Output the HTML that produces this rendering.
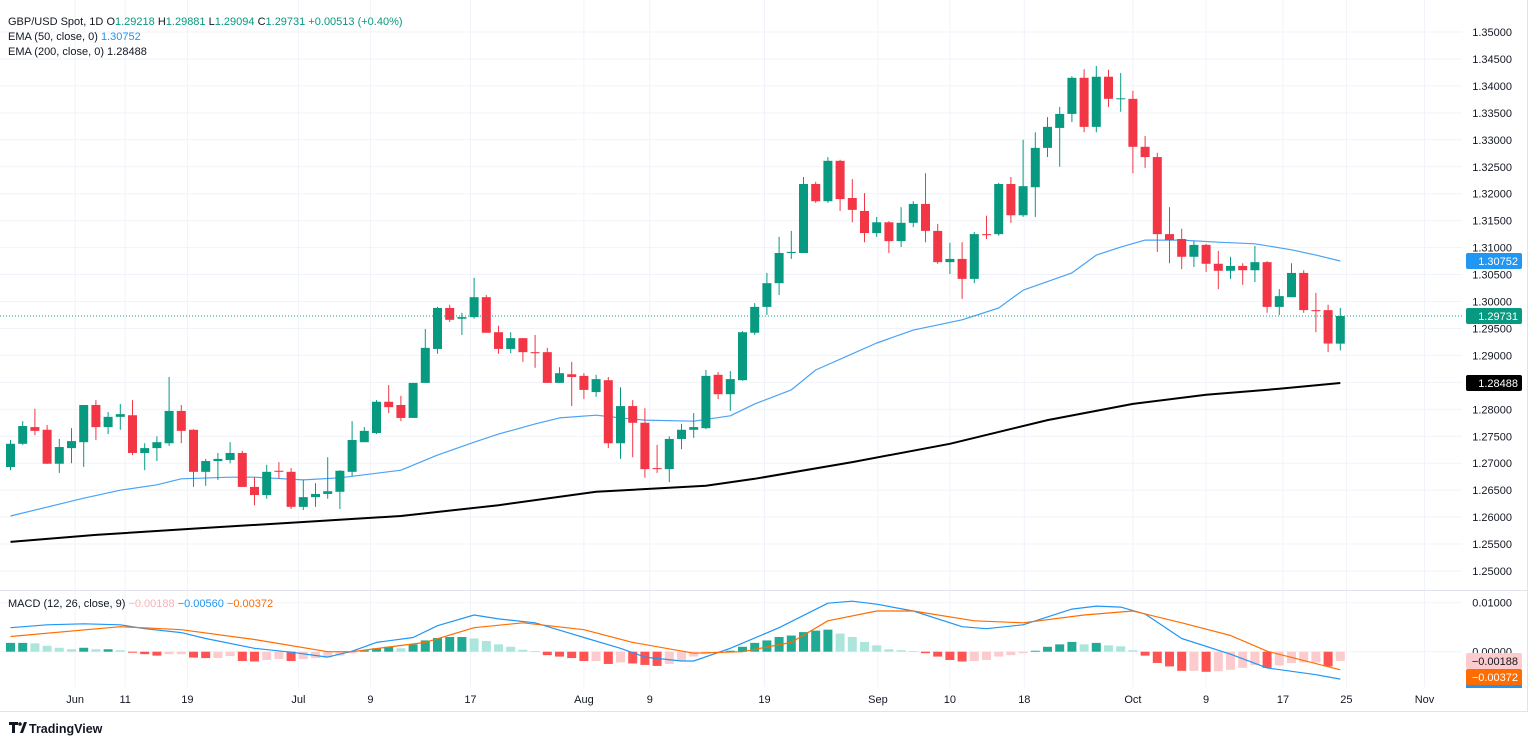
<!DOCTYPE html>
<html><head><meta charset="utf-8">
<style>
body{margin:0;background:#fff;width:1536px;height:744px;overflow:hidden;font-family:"Liberation Sans",sans-serif;}
svg{display:block}
</style></head>
<body>
<svg id="chart" width="1536" height="744" xmlns="http://www.w3.org/2000/svg" font-family="Liberation Sans, sans-serif">
<g id="grid"></g>
<g id="mainPane"></g>
<g id="macdPane"></g>
<g id="axes"></g>
<g id="legend">
 <text x="8" y="25" font-size="11" fill="#131722">GBP/USD Spot, 1D <tspan fill="#131722">O</tspan><tspan fill="#089981">1.29218</tspan> <tspan fill="#131722"> H</tspan><tspan fill="#089981">1.29881</tspan> <tspan fill="#131722"> L</tspan><tspan fill="#089981">1.29094</tspan> <tspan fill="#131722"> C</tspan><tspan fill="#089981">1.29731</tspan> <tspan fill="#089981"> +0.00513 (+0.40%)</tspan></text>
 <text x="8" y="40" font-size="11" fill="#131722">EMA (50, close, 0) <tspan fill="#2196f3">1.30752</tspan></text>
 <text x="8" y="55" font-size="11" fill="#131722">EMA (200, close, 0) <tspan fill="#131722">1.28488</tspan></text>
 <text x="8" y="607" font-size="11" fill="#131722">MACD (12, 26, close, 9) <tspan fill="#f7b6b9">−0.00188</tspan> <tspan fill="#2196f3">−0.00560</tspan> <tspan fill="#ff6d00">−0.00372</tspan></text>
</g>
<g>
 <path d="M9 722 h9 v3 h-3 v8 h-3 v-8 h-3z M20 733 l4 -11 h3 l-4 11z" fill="#131722"/>
 <circle cx="20" cy="724" r="1.8" fill="#131722"/>
 <text x="29" y="733" font-size="12.5" fill="#131722" font-weight="bold">TradingView</text>
</g>
</svg>
<script>
// ===== data =====
const open  = [1.2693,1.2736,1.2767,1.2762,1.2699,1.2728,1.2739,1.2808,1.2767,1.2786,1.2789,1.2719,1.2728,1.2737,1.2797,1.2762,1.2684,1.2704,1.2706,1.2719,1.2656,1.2641,1.2686,1.2684,1.2619,1.2637,1.2643,1.2647,1.2684,1.2739,1.2756,1.2814,1.2808,1.2784,1.2849,1.2912,1.2988,1.2968,1.2971,1.3008,1.2943,1.2912,1.2932,1.2906,1.2906,1.2849,1.2865,1.2862,1.2832,1.2854,1.2737,1.2806,1.2775,1.2691,1.2689,1.2745,1.2762,1.2765,1.2864,1.2828,1.2854,1.2942,1.2990,1.3034,1.3090,1.3090,1.3218,1.3186,1.3261,1.3192,1.3168,1.3127,1.3147,1.3112,1.3146,1.3181,1.3131,1.3073,1.3079,1.3042,1.3125,1.3125,1.3218,1.3160,1.3212,1.3285,1.3322,1.3348,1.3415,1.3324,1.3417,1.3376,1.3376,1.3287,1.3268,1.3125,1.3116,1.3083,1.3105,1.3070,1.3057,1.3066,1.3058,1.3073,1.2990,1.3008,1.3053,1.2984,1.2984,1.29218];
const high  = [1.2743,1.2778,1.2801,1.2771,1.2745,1.2765,1.2808,1.2817,1.2795,1.2810,1.2817,1.2737,1.2750,1.2860,1.2808,1.2763,1.2708,1.2719,1.2739,1.2723,1.2674,1.2697,1.2702,1.2691,1.2669,1.2663,1.2711,1.2687,1.2778,1.2767,1.2817,1.2845,1.2825,1.2849,1.2949,1.2990,1.2994,1.2979,1.3044,1.3012,1.2955,1.2943,1.2932,1.2938,1.2914,1.2878,1.2888,1.2867,1.2864,1.2860,1.2841,1.2817,1.2802,1.2734,1.2750,1.2773,1.2793,1.2873,1.2869,1.2871,1.2945,1.2997,1.3053,1.3120,1.3131,1.3231,1.3222,1.3268,1.3263,1.3227,1.3201,1.3157,1.3149,1.3175,1.3186,1.3238,1.3144,1.3109,1.3110,1.3129,1.3159,1.3220,1.3231,1.3300,1.3314,1.3342,1.3361,1.3418,1.3431,1.3437,1.3430,1.3424,1.3391,1.3307,1.3276,1.3175,1.3135,1.3112,1.3107,1.3094,1.3083,1.3071,1.3103,1.3075,1.3023,1.3071,1.3058,1.3016,1.2994,1.29881];
const low   = [1.2687,1.2734,1.2752,1.2699,1.2682,1.2700,1.2693,1.2743,1.2754,1.2762,1.2715,1.2687,1.2704,1.2732,1.2737,1.2656,1.2658,1.2669,1.2700,1.2656,1.2622,1.2634,1.2671,1.2615,1.2613,1.2619,1.2634,1.2615,1.2676,1.2739,1.2754,1.2793,1.2778,1.2784,1.2849,1.2903,1.2962,1.2938,1.2968,1.2942,1.2903,1.2904,1.2888,1.2877,1.2849,1.2849,1.2806,1.2819,1.2823,1.2728,1.2708,1.2711,1.2673,1.2682,1.2665,1.2726,1.2747,1.2763,1.2819,1.2797,1.2853,1.2938,1.2975,1.3012,1.3079,1.3090,1.3183,1.3183,1.3168,1.3147,1.3110,1.3120,1.3090,1.3101,1.3138,1.3110,1.3070,1.3051,1.3005,1.3034,1.3116,1.3122,1.3146,1.3157,1.3157,1.3268,1.3250,1.3333,1.3314,1.3314,1.3361,1.3352,1.3238,1.3248,1.3092,1.3071,1.3060,1.3064,1.3055,1.3023,1.3042,1.3031,1.3036,1.2979,1.2975,1.3008,1.2979,1.2943,1.2906,1.29094];
const close = [1.2736,1.2769,1.2760,1.2699,1.2730,1.2741,1.2808,1.2767,1.2786,1.2791,1.2719,1.2728,1.2739,1.2797,1.2760,1.2684,1.2704,1.2708,1.2719,1.2656,1.2641,1.2684,1.2684,1.2619,1.2637,1.2643,1.2648,1.2686,1.2743,1.2760,1.2814,1.2804,1.2784,1.2849,1.2914,1.2988,1.2966,1.2971,1.3008,1.2942,1.2912,1.2932,1.2906,1.2904,1.2849,1.2867,1.2860,1.2836,1.2856,1.2737,1.2806,1.2775,1.2689,1.2689,1.2745,1.2762,1.2767,1.2862,1.2828,1.2856,1.2943,1.2990,1.3034,1.3090,1.3092,1.3218,1.3186,1.3261,1.3190,1.3170,1.3127,1.3147,1.3112,1.3146,1.3181,1.3131,1.3073,1.3079,1.3042,1.3125,1.3123,1.3218,1.3160,1.3214,1.3285,1.3324,1.3348,1.3415,1.3324,1.3417,1.3376,1.3377,1.3287,1.3268,1.3125,1.3114,1.3083,1.3105,1.3070,1.3057,1.3066,1.3058,1.3073,1.2990,1.3010,1.3053,1.2984,1.2982,1.2922,1.29731];
const ema50Idx = [0,6,9,12,14,18,20,24,27,32,35,38,40,43,45,48,50,52,56,59,61,64,66,69,71,74,78,81,83,87,89,91,93,96,99,102,105,107,109];
const ema50Val = [1.2602,1.2635,1.2650,1.2660,1.2671,1.2674,1.2674,1.2669,1.2673,1.2687,1.2715,1.2739,1.2754,1.2773,1.2784,1.2789,1.2784,1.2780,1.2778,1.2788,1.2810,1.2836,1.2873,1.2903,1.2923,1.2947,1.2966,1.2988,1.3021,1.3053,1.3086,1.3101,1.3114,1.3114,1.3110,1.3107,1.3096,1.3086,1.30752];
const ema200Idx = [0,7,16,24,32,40,48,57,61,69,77,85,92,98,104,109];
const ema200Val = [1.2554,1.2567,1.2580,1.2591,1.2602,1.2622,1.2647,1.2658,1.2671,1.2702,1.2736,1.2780,1.2810,1.2827,1.2838,1.28488];
const macdHist = [0.0018,0.0018,0.0017,0.0012,0.0008,0.0005,0.0008,0.0005,0.0005,0.0003,-0.0002,-0.0005,-0.0008,-0.0005,-0.0005,-0.0012,-0.0013,-0.0013,-0.0009,-0.0019,-0.0020,-0.0017,-0.0015,-0.0019,-0.0015,-0.0013,-0.0012,-0.0008,-0.0003,0.0003,0.0007,0.0010,0.0007,0.0015,0.0023,0.0028,0.0030,0.0030,0.0027,0.0022,0.0015,0.0010,0.0004,0.0001,-0.0007,-0.0010,-0.0013,-0.0019,-0.0019,-0.0025,-0.0022,-0.0024,-0.0027,-0.0029,-0.0025,-0.0018,-0.0010,-0.0005,-0.0002,0.0002,0.0010,0.0018,0.0023,0.0030,0.0033,0.0040,0.0043,0.0045,0.0037,0.0030,0.0020,0.0013,0.0005,0.0003,0.0001,-0.0003,-0.0010,-0.0017,-0.0020,-0.0019,-0.0017,-0.0010,-0.0007,-0.0003,0.0002,0.0010,0.0015,0.0020,0.0015,0.0018,0.0013,0.0011,0.0003,-0.0008,-0.0023,-0.0030,-0.0039,-0.0039,-0.0041,-0.0040,-0.0037,-0.0033,-0.0027,-0.0033,-0.0028,-0.0023,-0.0022,-0.0022,-0.0030,-0.00188];
const macdIdx = [0,3,6,9,11,14,16,20,23,26,28,30,33,35,38,40,43,47,50,52,55,56,59,63,67,69,71,74,78,80,83,87,89,91,93,96,100,103,107,109];
const macdVal = [0.0049,0.0055,0.0057,0.0055,0.0047,0.0039,0.0027,0.0007,-0.0001,-0.0011,0.0001,0.0019,0.0029,0.0053,0.0075,0.0067,0.0059,0.0029,0.0007,-0.0011,-0.0019,-0.0019,0.0007,0.0049,0.0099,0.0103,0.0097,0.0083,0.0051,0.0047,0.0055,0.0087,0.0093,0.0091,0.0077,0.0027,-0.0005,-0.0033,-0.0047,-0.0056];
const signalIdx = [0,9,14,20,26,28,34,38,42,47,51,56,60,64,67,71,74,79,83,88,92,96,100,103,109];
const signalVal = [0.0031,0.0051,0.0045,0.0025,0.0000,0.0000,0.0019,0.0049,0.0059,0.0045,0.0019,-0.0003,0.0000,0.0019,0.0063,0.0083,0.0083,0.0063,0.0059,0.0075,0.0083,0.0059,0.0033,0.0001,-0.0037];
const priceTicks = [1.35,1.345,1.34,1.335,1.33,1.325,1.32,1.315,1.31,1.305,1.30,1.295,1.29,1.285,1.28,1.275,1.27,1.265,1.26,1.255,1.25];
const dateLabels = ["Jun","11","19","Jul","9","17","Aug","9","19","Sep","10","18","Oct","9","17","25","Nov"];
const dateIdx = [5.3,9.4,14.5,23.6,29.5,37.7,47,52.4,61.8,71.1,77,83.1,92,98,104.3,109.5,115.9];

// ===== scales =====
const NS="http://www.w3.org/2000/svg";
const xs = i => 10.5 + 12.2*i;
const ys = p => 32 + (1.35 - p)*5390;
const ym = v => 651.7 - v*4900;
function mk(tag, attrs, parent){const e=document.createElementNS(NS,tag);for(const k in attrs)e.setAttribute(k,attrs[k]);parent.appendChild(e);return e;}
const grid=document.getElementById('grid'), mainP=document.getElementById('mainPane'), macdP=document.getElementById('macdPane'), axes=document.getElementById('axes');

priceTicks.forEach(p=>{ const y=ys(p); mk('line',{x1:0,x2:1462,y1:y,y2:y,stroke:'#f0f3fa','stroke-width':1},grid);});
dateIdx.forEach(i=>{ const x=xs(i); mk('line',{x1:x,x2:x,y1:0,y2:687,stroke:'#f0f3fa','stroke-width':1},grid);});
[602.7,651.7].forEach(y=>mk('line',{x1:0,x2:1462,y1:y,y2:y,stroke:'#f0f3fa'},grid));
mk('line',{x1:0,x2:1527,y1:590.5,y2:590.5,stroke:'#e0e3eb'},grid);
mk('line',{x1:0,x2:1527,y1:711.5,y2:711.5,stroke:'#e0e3eb'},grid);
mk('line',{x1:1527.5,x2:1527.5,y1:0,y2:712,stroke:'#e0e3eb'},grid);

function poly(idx, vals, scale, color, w, parent, name){
  const pts = idx.map((i,k)=>xs(i).toFixed(1)+','+scale(vals[k]).toFixed(1)).join(' ');
  const e=mk('polyline',{points:pts,fill:'none',stroke:color,'stroke-width':w,'stroke-linejoin':'round'},parent);
  
  
}
poly(ema200Idx, ema200Val, ys, '#000000', 2, mainP, 'ema200-line');
poly(ema50Idx, ema50Val, ys, '#4aa3f5', 1.2, mainP, 'ema50-line');

for(let i=0;i<open.length;i++){
  const up = close[i]>=open[i];
  const col = up ? '#089981' : '#f23645';
  const x = xs(i);
  const g = mk('g',{},mainP);
  
  
  mk('line',{x1:x,x2:x,y1:ys(high[i]),y2:ys(low[i]),stroke:col,'stroke-width':1},g);
  const t=ys(Math.max(open[i],close[i])), b=ys(Math.min(open[i],close[i]));
  mk('rect',{x:x-4.5,y:t,width:9,height:Math.max(1,b-t),fill:col},g);
}
const lp = ys(close[close.length-1]);
mk('line',{x1:0,x2:1462,y1:lp,y2:lp,stroke:'#089981','stroke-dasharray':'1 2'},mainP);

for(let i=0;i<macdHist.length;i++){
  const v=macdHist[i], pv = i>0?macdHist[i-1]:v;
  let col;
  if(v>=0) col = v>=pv ? '#22ab94' : '#ace5dc';
  else col = v<pv ? '#ff5252' : '#fccbcd';
  const y0=ym(0), y1=ym(v);
  const r=mk('rect',{x:xs(i)-4.5,y:Math.min(y0,y1),width:9,height:Math.max(0.8,Math.abs(y1-y0)),fill:col},macdP);
  
  
}
poly(macdIdx, macdVal, ym, '#2196f3', 1.2, macdP, 'macd-line');
poly(signalIdx, signalVal, ym, '#ff6d00', 1.2, macdP, 'signal-line');

priceTicks.forEach(p=>{
  const t=mk('text',{x:1512,y:ys(p)+4,'font-size':11,fill:'#131722','text-anchor':'end'},axes);
  t.textContent=p.toFixed(5);
  
  
});
[[0.01,'0.01000'],[0,'0.00000']].forEach(a=>{
  const t=mk('text',{x:1512,y:ym(a[0])+4,'font-size':11,fill:'#131722','text-anchor':'end'},axes);
  t.textContent=a[1];
  
  
});
dateLabels.forEach((s,k)=>{
  const t=mk('text',{x:xs(dateIdx[k]),y:703,'font-size':11,fill:'#131722','text-anchor':'middle'},axes);
  t.textContent=s;
  
  
});
function badge(y, txt, bg, fg, name){
  const g=mk('g',{},axes);
  
  
  mk('rect',{x:1466,y:y-8,width:56,height:16,fill:bg,rx:2},g);
  const t=mk('text',{x:1518,y:y+4,'font-size':11,fill:fg,'text-anchor':'end'},g);
  t.textContent=txt;
}
badge(ys(ema50Val[ema50Val.length-1]),'1.30752','#2196f3','#fff','ema50-badge');
badge(lp,'1.29731','#089981','#fff','last-price-badge');
badge(ys(ema200Val[ema200Val.length-1]),'1.28488','#000','#fff','ema200-badge');
mk('rect',{x:1466,y:684,width:56,height:4,fill:'#2196f3'},axes);
badge(661,'−0.00188','#fccbcd','#131722','macd-hist-badge');
badge(677,'−0.00372','#ff6d00','#fff','signal-badge');
</script>
</body></html>
